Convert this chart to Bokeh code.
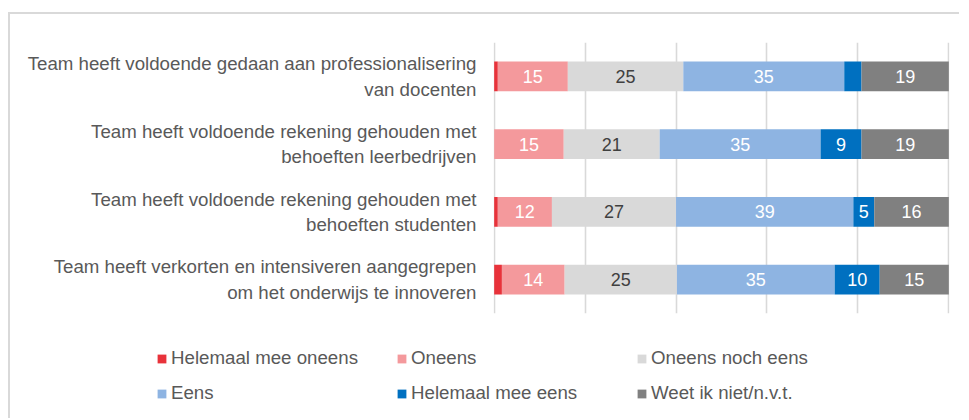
import numpy as np
from bokeh.plotting import figure
from bokeh.layouts import column
from bokeh.models import (ColumnDataSource, FactorRange, Range1d, FixedTicker,
                          Legend, LegendItem)
from bokeh.core.properties import value
from bokeh.embed import file_html
from bokeh.resources import INLINE

categories = [
    "Team heeft voldoende gedaan aan professionalisering\nvan docenten",
    "Team heeft voldoende rekening gehouden met\nbehoeften leerbedrijven",
    "Team heeft voldoende rekening gehouden met\nbehoeften studenten",
    "Team heeft verkorten en intensiveren aangegrepen\nom het onderwijs te innoveren",
]
series_names = ["Helemaal mee oneens", "Oneens", "Oneens noch eens",
                "Eens", "Helemaal mee eens", "Weet ik niet/n.v.t."]
helemaal_mee_oneens = [0.8, 0.0, 0.8, 1.7]
oneens = [15.4, 15.3, 11.9, 13.8]
oneens_noch_eens = [25.4, 21.1, 27.3, 24.7]
eens = [35.4, 35.4, 39.0, 34.7]
helemaal_mee_eens = [3.8, 9.0, 4.6, 9.9]
weet_ik_niet = [19.2, 19.2, 16.4, 15.2]
grid_ticks = [0, 20, 40, 60, 80, 100]

colors = ["#E8323A", "#F4999C", "#D9D9D9", "#8EB4E2", "#0070C0", "#808080"]
label_colors = ["#FFFFFF", "#FFFFFF", "#404040", "#FFFFFF", "#FFFFFF", "#FFFFFF"]
keys = ["s0", "s1", "s2", "s3", "s4", "s5"]
series = [helemaal_mee_oneens, oneens, oneens_noch_eens, eens,
          helemaal_mee_eens, weet_ik_niet]

FONT = "Liberation Sans"

data = {"cat": categories}
for k, s in zip(keys, series):
    data[k] = s
source = ColumnDataSource(data)

# ---- main chart ----
p = figure(width=951, height=319, output_backend="svg", toolbar_location=None,
           y_range=FactorRange(factors=categories[::-1]),
           x_range=Range1d(-0.15, 100.15), title=None,
           min_border_left=483, min_border_right=12,
           min_border_top=28, min_border_bottom=20)
p.frame_align = False
p.outline_line_color = None
p.background_fill_color = "white"
p.border_fill_color = "white"

p.hbar_stack(keys, y="cat", height=0.436, color=colors,
             line_color=None, source=source)

# data labels
vals = np.array(series)  # shape (6, 4)
cum = np.cumsum(vals, axis=0)
starts = cum - vals
lx, ly, lt, lc = [], [], [], []
for i in range(len(series)):
    for j in range(len(categories)):
        v = vals[i, j]
        if v >= 4.5:
            lx.append(starts[i, j] + v / 2)
            ly.append(categories[j])
            lt.append(f"{v:.0f}")
            lc.append(label_colors[i])
lsrc = ColumnDataSource(dict(x=lx, y=ly, t=lt, c=lc))
p.text(x="x", y="y", text="t", text_color="c", source=lsrc,
       text_align="center", text_baseline="middle",
       text_font=value(FONT), text_font_size="18px")

p.xaxis.visible = False
yax = p.yaxis[0]
yax.axis_line_color = None
yax.major_tick_line_color = None
yax.minor_tick_line_color = None
yax.major_tick_out = 0
yax.major_tick_in = 0
yax.major_label_standoff = 17
yax.major_label_text_font = FONT
yax.major_label_text_font_size = "18.7px"
yax.major_label_text_color = "#595959"
yax.major_label_text_line_height = 1.22
yax.major_label_text_align = "right"

p.ygrid.grid_line_color = None
p.xgrid[0].ticker = FixedTicker(ticks=grid_ticks)
p.xgrid.grid_line_color = "#D9D9D9"
p.xgrid.grid_line_width = 1.6

# ---- legend panel ----
lg = figure(width=951, height=87, output_backend="svg", toolbar_location=None,
            x_range=Range1d(0, 1), y_range=Range1d(0, 1), title=None,
            x_axis_type=None, y_axis_type=None,
            min_border=0, min_border_left=0, min_border_right=0,
            min_border_top=0, min_border_bottom=0)
lg.frame_align = False
lg.outline_line_color = None
lg.xgrid.visible = False
lg.ygrid.visible = False
lg.background_fill_color = "white"
lg.border_fill_color = "white"
empty = ColumnDataSource(dict(y=[np.nan], right=[np.nan]))
dummies = [lg.hbar(y="y", right="right", height=0.5, fill_color=c,
                   line_color=None, source=empty) for c in colors]
items = [LegendItem(label=n, renderers=[r]) for n, r in zip(series_names, dummies)]
legend = Legend(items=items, orientation="horizontal", ncols=3,
                location=(146, 16),
                glyph_width=11, glyph_height=11, label_standoff=4,
                label_width=212, label_height=22, spacing=13,
                padding=0, margin=0, border_line_color=None,
                background_fill_alpha=0,
                label_text_font=FONT, label_text_font_size="18.7px",
                label_text_color="#595959")
lg.add_layout(legend, "center")

layout = column(p, lg, spacing=0)
layout.margin = (14, 0, 0, 10)
layout.styles = {"box-shadow": "-2px -2px 0 0 #D9D9D9"}

open("out.html", "w").write(file_html(layout, INLINE))
